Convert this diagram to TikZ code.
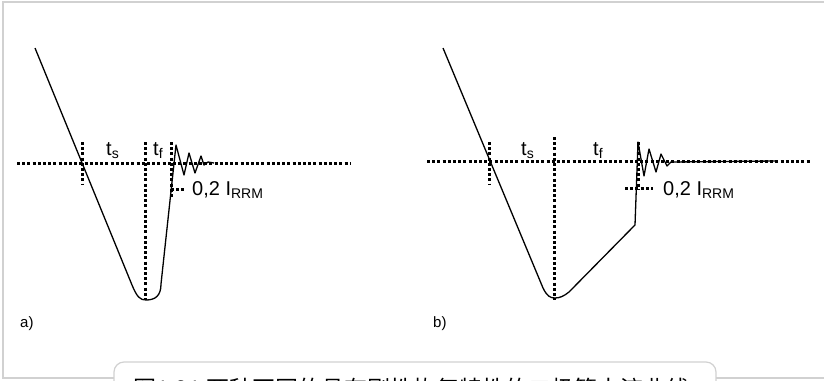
\documentclass[tikz,border=0pt]{standalone}
\usepackage{fontspec}
\setmainfont{Liberation Sans}
\newfontfamily\cjk{Noto Sans CJK SC}
\usetikzlibrary{positioning}

\newcommand{\lowsub}[1]{\raisebox{-0.35ex}{\fontsize{14}{14}\selectfont #1}}

\begin{document}
\begin{tikzpicture}[x=1pt, y=-1pt,
    curve/.style={line width=1.3pt, line join=round},
    dotline/.style={line width=3pt, dash pattern=on 3pt off 2.2pt},
    frame/.style={draw=black!18, line width=1.2pt},
    lbl/.style={inner sep=0pt, anchor=base west, font=\fontsize{20}{20}\selectfont},
    tag/.style={inner sep=0pt, anchor=base west, font=\fontsize{15}{15}\selectfont}]
    \useasboundingbox (0,0) rectangle (824,380);
    \clip (0,0) rectangle (824,380);

    % frame and caption box
    \draw[frame] (114,378) -- (3,378) -- (3,2) -- (824,2);
    \draw[frame] (716,378) -- (824,378);
    \draw[frame, rounded corners=10pt] (114,395) -- (114,362) -- (716,362) -- (716,395);
    \node[inner sep=0pt, anchor=base west, font=\cjk\fontsize{23}{23}\selectfont] (cap) at (133,397)
        {图1.21 两种不同的具有刚性恢复特性的二极管电流曲线};

    % panel a
    \draw[dotline] (17,163) -- (351,163);
    \draw[dotline] (82,142) -- (82,184);
    \draw[dotline] (145,142) -- (145,300);
    \draw[dotline] (171,142) -- (171,197);
    \draw[dotline] (171,189) -- (184,189);
    \draw[curve] (35,48) -- (132,285) .. controls (137,297) and (140,300) .. (146,300)
        .. controls (155,300) and (161,296) .. (161,284) -- (176,145) -- (184,175) -- (189,153)
        -- (195,173) -- (201,156) -- (204,165) -- (208,162) -- (214,163);
    \node[lbl] (tsa) at (106,155) {t\lowsub{s}};
    \node[lbl] (tfa) at (153,155) {t\lowsub{f}};
    \node[lbl] (irra) at (192,195) {0,2 I\lowsub{RRM}};
    \node[tag] (taga) at (20,327) {a)};

    % panel b
    \draw[dotline] (427,161) -- (811,161);
    \draw[dotline] (489,142) -- (489,184);
    \draw[dotline] (554,137) -- (554,300);
    \draw[dotline] (638,142) -- (638,190);
    \draw[dotline] (625,188) -- (653,188);
    \draw[curve] (443,48) -- (543,288) .. controls (547,296) and (550,298) .. (555,298)
        .. controls (560,298) and (564,296) .. (569,292) -- (635,225) -- (638,142) -- (644,176)
        -- (649,149) -- (656,172) -- (661,154) -- (667,166) -- (671,162) -- (775,161);
    \node[lbl] (tsb) at (521,155) {t\lowsub{s}};
    \node[lbl] (tfb) at (593,155) {t\lowsub{f}};
    \node[lbl] (irrb) at (663,195) {0,2 I\lowsub{RRM}};
    \node[tag] (tagb) at (433,327) {b)};
\end{tikzpicture}
\end{document}
